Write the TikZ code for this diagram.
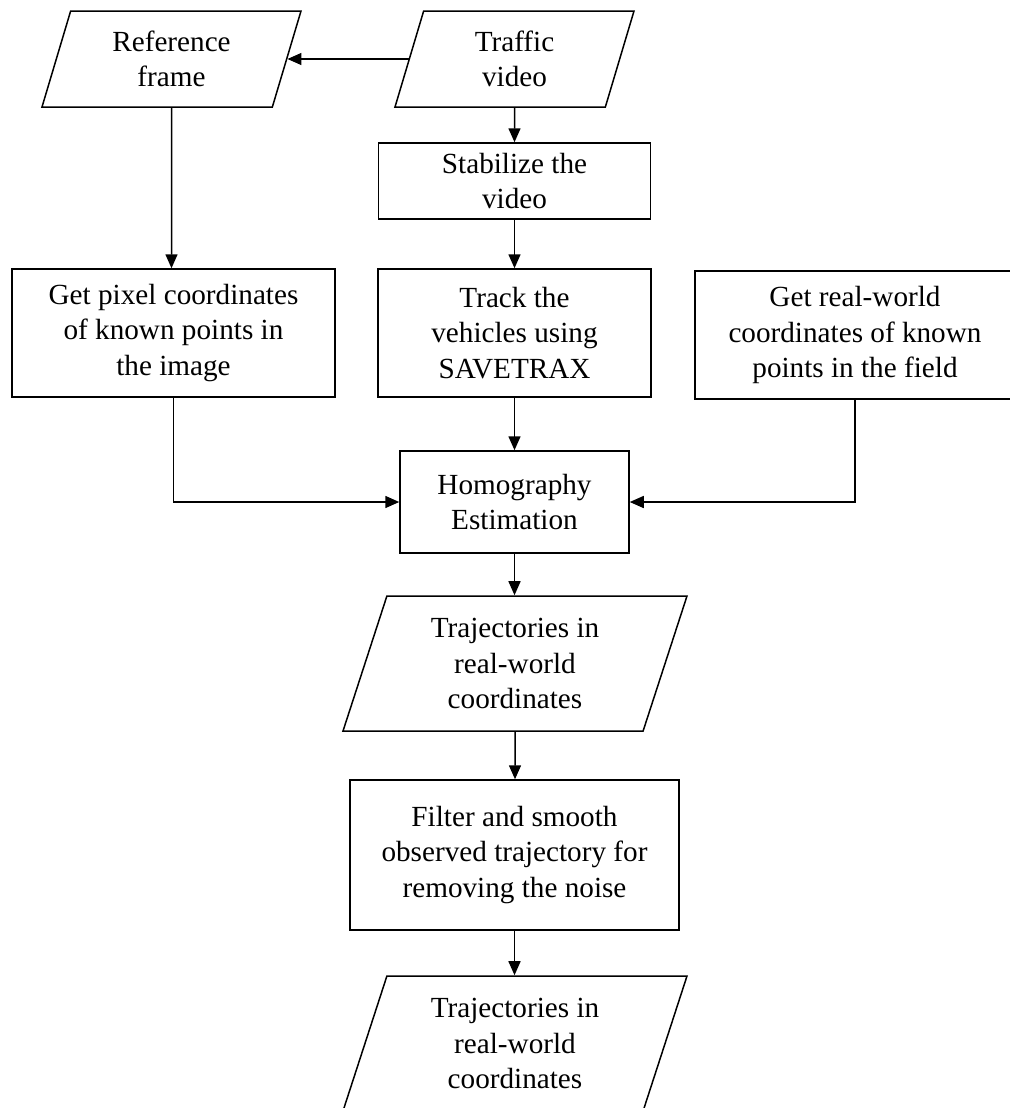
\documentclass[tikz,border=0pt]{standalone}
\usepackage{fontspec}
\setmainfont{Liberation Serif}
\usepackage{tikz}
\usetikzlibrary{shapes.geometric,arrows.meta}

\begin{document}
\begin{tikzpicture}[x=0.5pt,y=-0.5pt]%
  \tikzstyle{every node}=[font=\fontsize{14.6pt}{17.75pt}\selectfont,align=center]
  \tikzstyle{boxn}=[rectangle,draw,line width=0.75pt,inner sep=2pt]
  \tikzstyle{datan}=[trapezium,trapezium left angle=66,trapezium right angle=114,
    trapezium stretches body,draw,line width=0.75pt,inner sep=2pt]
  \tikzstyle{arr}=[line width=0.75pt,-{Triangle[length=7pt,width=6pt]}]
  \useasboundingbox (0,0) rectangle (1009,1108);
  \node(ref)[datan,minimum width=129.5pt,minimum height=48pt] at (171.5,59) {Reference\\frame};
  \node(traffic)[datan,minimum width=119.5pt,minimum height=48pt] at (514.5,59) {Traffic\\video};
  \node(stab)[boxn,minimum width=136pt,minimum height=38pt] at (514.5,181) {Stabilize the\\video};
  \node(pix)[boxn,minimum width=161.5pt,minimum height=64pt] at (173.5,333)
    {Get pixel coordinates\\of known points in\\the image};
  \node(track)[boxn,minimum width=136.5pt,minimum height=64pt] at (514.5,333)
    {Track the\\vehicles using\\SAVETRAX};
  \node(real)[boxn,minimum width=160pt,minimum height=64pt] at (855,335)
    {Get real-world\\coordinates of known\\points in the field};
  \node(homo)[boxn,minimum width=114.5pt,minimum height=51pt] at (514.5,502) {Homography\\Estimation};
  \node(traj)[datan,minimum width=172pt,minimum height=67.5pt] at (515,663.5)
    {Trajectories in\\real-world\\coordinates};
  \node(filter)[boxn,minimum width=164.5pt,minimum height=75pt] at (514.5,855)
    {Filter and smooth\\observed trajectory for\\removing the noise};
  \node(trajs)[datan,minimum width=172pt,minimum height=67.5pt] at (515,1043.5)
    {Trajectories in\\real-world\\coordinates};
  \draw[arr] (traffic.left side) -- (ref.right side);
  \draw[arr] (ref) -- (ref |- pix.north);
  \draw[arr] (traffic) -- (traffic |- stab.north);
  \draw[arr] (stab) -- (stab |- track.north);
  \draw[arr] (track) -- (track |- homo.north);
  \draw[arr] (pix.south) |- (homo.west);
  \draw[arr] (real.south) |- (homo.east);
  \draw[arr] (homo) -- (homo |- traj.north);
  \draw[arr] (traj) -- (traj |- filter.north);
  \draw[arr] (filter) -- (filter |- trajs.north);
\end{tikzpicture}
\end{document}
